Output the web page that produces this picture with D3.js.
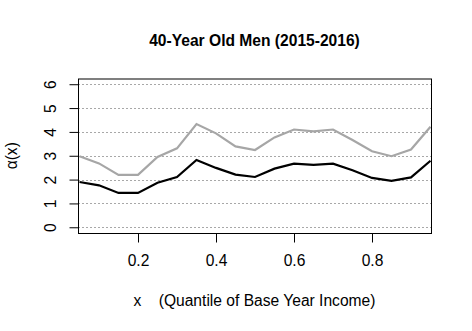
<!DOCTYPE html>
<html>
<head>
<meta charset="utf-8">
<script src="https://cdn.jsdelivr.net/npm/d3@7"></script>
<style>
  body { margin: 0; background: #fff; }
  svg { display: block; font-family: "Liberation Sans", Arial, sans-serif; }
</style>
</head>
<body>
<div id="chart"></div>
<script>
// quantiles of base year income
var xs = [0.05, 0.10, 0.15, 0.20, 0.25, 0.30, 0.35, 0.40, 0.45, 0.50,
          0.55, 0.60, 0.65, 0.70, 0.75, 0.80, 0.85, 0.90, 0.95];
// upper (gray) and lower (black) curves
var upper = [2.98, 2.68, 2.20, 2.20, 2.95, 3.31, 4.33, 3.94, 3.39, 3.24,
             3.77, 4.10, 4.02, 4.10, 3.66, 3.19, 2.98, 3.26, 4.22];
var lower = [1.90, 1.76, 1.44, 1.44, 1.87, 2.11, 2.82, 2.49, 2.21, 2.11,
             2.46, 2.67, 2.62, 2.67, 2.39, 2.07, 1.95, 2.09, 2.79];
var xTicks = [0.2, 0.4, 0.6, 0.8];
var yTicks = [0, 1, 2, 3, 4, 5, 6];

var width = 472, height = 331;
// plot box (note: "top" is a reserved window global, so use prefixed names)
var boxL = 78, boxR = 431, boxT = 78.5, boxB = 233;

var svg = d3.select("#chart").append("svg")
    .attr("width", width)
    .attr("height", height);

var x = d3.scaleLinear().domain([0.05, 0.95]).range([boxL + 1.5, boxR - 0.5]);
var y = d3.scaleLinear().domain([-0.24, 6.24]).range([boxB, boxT]);

// dotted grid
svg.selectAll(".grid")
  .data(yTicks)
  .enter().append("line")
    .attr("class", "grid")
    .attr("x1", boxL).attr("x2", boxR)
    .attr("y1", function(d) { return Math.round(y(d)) + 0.5; })
    .attr("y2", function(d) { return Math.round(y(d)) + 0.5; })
    .style("stroke", "#a8a8a8")
    .style("stroke-dasharray", "2,2");

var line = d3.line()
    .x(function(d, i) { return x(xs[i]); })
    .y(function(d) { return y(d); });

svg.append("path")
    .datum(upper)
    .attr("d", line)
    .style("fill", "none")
    .style("stroke", "#a6a6a6")
    .style("stroke-width", 2.2);

svg.append("path")
    .datum(lower)
    .attr("d", line)
    .style("fill", "none")
    .style("stroke", "#000")
    .style("stroke-width", 2.2);

// box
svg.append("rect")
    .attr("x", boxL + 0.5).attr("y", boxT + 0.5)
    .attr("width", boxR - boxL).attr("height", boxB - boxT)
    .style("fill", "none")
    .style("stroke", "#000");

// x axis
var xAxis = svg.append("g")
    .attr("transform", "translate(0," + (boxB + 0.5) + ")")
    .call(d3.axisBottom(x).tickValues(xTicks).tickSize(9).tickPadding(12)
      .tickFormat(d3.format(".1f")));
xAxis.select(".domain").remove();
xAxis.selectAll("line").style("stroke", "#000");
xAxis.selectAll("text")
    .style("font-size", "15.6px")
    .style("fill", "#000");

// y axis, labels rotated like R
var yAxis = svg.append("g")
    .attr("transform", "translate(" + (boxL + 0.5) + ",0)")
    .call(d3.axisLeft(y).tickValues(yTicks).tickSize(9).tickFormat(d3.format("d")));
yAxis.select(".domain").remove();
yAxis.selectAll("line").style("stroke", "#000");
yAxis.selectAll("text")
    .attr("x", null).attr("dy", null)
    .attr("text-anchor", "middle")
    .attr("transform", "translate(-23,0) rotate(-90)")
    .style("font-size", "15.6px")
    .style("fill", "#000");

// title
svg.append("text")
    .attr("x", (boxL + boxR) / 2)
    .attr("y", 46)
    .attr("text-anchor", "middle")
    .style("font-size", "15.6px")
    .style("font-weight", "bold")
    .text("40-Year Old Men (2015-2016)");

// axis labels
svg.append("text")
    .attr("x", (boxL + boxR) / 2)
    .attr("y", 306)
    .attr("text-anchor", "middle")
    .style("font-size", "15.6px")
    .style("white-space", "pre")
    .text("x    (Quantile of Base Year Income)");

svg.append("text")
    .attr("transform", "translate(17," + ((boxT + boxB) / 2) + ") rotate(-90)")
    .attr("text-anchor", "middle")
    .style("font-size", "15.6px")
    .text("α(x)");
</script>
</body>
</html>
